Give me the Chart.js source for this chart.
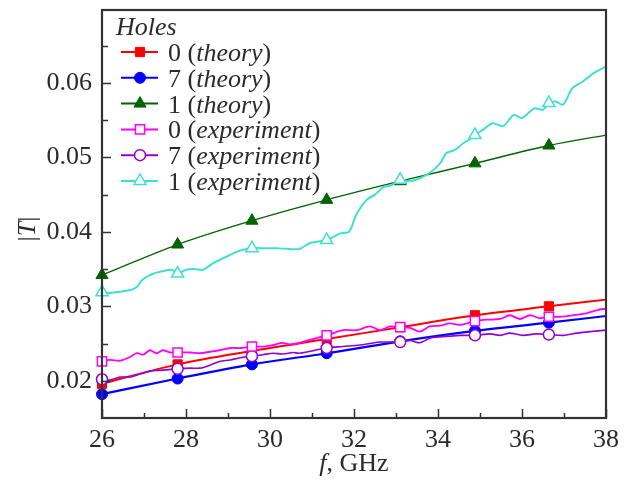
<!DOCTYPE html>
<html>
<head>
<meta charset="utf-8">
<script src="https://cdn.jsdelivr.net/npm/chart.js@4.4.0/dist/chart.umd.min.js"></script>
<style>
  html, body { margin: 0; padding: 0; background: #fff; }
  #wrap { width: 631px; height: 484px; }
</style>
</head>
<body>
<div id="wrap"><canvas id="grafico" width="631" height="484"></canvas></div>
<script>
// frequencias (GHz) das curvas teoricas
var freqTeoria = [26, 27.8, 29.57, 31.35, 33.1, 34.88, 36.64, 38];
// |T| teorico: 0, 7 e 1 furos
var teoria0 = [0.0196, 0.0222, 0.0240, 0.0256, 0.0272, 0.0288, 0.0300, 0.0309];
var teoria7 = [0.0182, 0.0203, 0.0222, 0.0237, 0.0253, 0.0267, 0.0278, 0.0287];
var teoria1 = [0.0342, 0.0383, 0.0415, 0.0443, 0.0468, 0.0492, 0.0516, 0.0530];

// frequencias onde aparecem os marcadores
var marcadores = [26, 27.8, 29.57, 31.35, 33.1, 34.88, 36.64];

// experimento, 0 furos
var freqExp0 = [26, 26.19, 26.43, 26.67, 26.83, 26.98, 27.14, 27.3, 27.45, 27.62, 27.8, 28.1, 28.33, 28.57, 28.8,
                29.05, 29.3, 29.57, 29.83, 30.07, 30.29, 30.48, 30.7, 30.95, 31.35, 31.74, 32.07, 32.38, 32.62, 32.86,
                33.1, 33.33, 33.57, 33.8, 34.05, 34.29, 34.52, 34.88, 35.17, 35.48, 35.71, 35.95, 36.19, 36.43, 36.64,
                36.9, 37.21, 37.55, 37.8, 38];
var exp0 = [0.0226, 0.0228, 0.0227, 0.0232, 0.0237, 0.0235, 0.0241, 0.0237, 0.0241, 0.0238, 0.0238, 0.0238, 0.0237, 0.0239, 0.0241,
            0.0244, 0.0244, 0.0246, 0.0246, 0.0248, 0.0251, 0.0249, 0.0251, 0.0255, 0.0261, 0.0268, 0.0268, 0.0273, 0.0268, 0.0273,
            0.0272, 0.0271, 0.0266, 0.0273, 0.0274, 0.0277, 0.0275, 0.0280, 0.0282, 0.0283, 0.0288, 0.0283, 0.0288, 0.0284, 0.0286,
            0.0286, 0.0288, 0.0291, 0.0295, 0.0297];

// experimento, 7 furos
var freqExp7 = [26, 26.19, 26.43, 26.67, 26.9, 27.14, 27.38, 27.8, 28.1, 28.33, 28.57, 28.8, 29.05, 29.29, 29.57,
                29.83, 30.07, 30.31, 30.55, 30.7, 31.35, 31.74, 32.14, 32.38, 32.62, 32.86, 33.1, 33.33, 33.57, 33.8,
                34.05, 34.29, 34.52, 34.88, 35.24, 35.48, 35.71, 36.02, 36.33, 36.64, 36.98, 37.31, 37.62, 38];
var exp7 = [0.0202, 0.0201, 0.0205, 0.0205, 0.0209, 0.0213, 0.0214, 0.0216, 0.0217, 0.0217, 0.0221, 0.0226, 0.0228, 0.0231, 0.0233,
            0.0235, 0.0237, 0.0236, 0.0238, 0.0237, 0.0244, 0.0246, 0.0248, 0.0250, 0.0252, 0.0252, 0.0252, 0.0254, 0.0251, 0.0257,
            0.0259, 0.0260, 0.0261, 0.0261, 0.0263, 0.0261, 0.0264, 0.0261, 0.0263, 0.0262, 0.0261, 0.0264, 0.0266, 0.0268];

// experimento, 1 furo
var freqExp1 = [26, 26.18, 26.67, 26.83, 26.95, 27.14, 27.43, 27.67, 27.8, 28.0, 28.2, 28.4, 28.65, 28.9, 29.05,
                29.24, 29.57, 29.9, 30.17, 30.45, 30.7, 30.95, 31.35, 31.67, 31.88, 32.07, 32.3, 32.5, 32.7, 32.9,
                33.1, 33.33, 33.57, 33.8, 34.05, 34.2, 34.4, 34.6, 34.75, 34.88, 35.07, 35.3, 35.55, 35.8, 36.0,
                36.3, 36.5, 36.64, 36.8, 36.98, 37.2, 37.45, 37.7, 38];
var exp1 = [0.0319, 0.0318, 0.0322, 0.0326, 0.0335, 0.0342, 0.0347, 0.0349, 0.0344, 0.0349, 0.0350, 0.0349, 0.0358, 0.0365, 0.0369,
            0.0374, 0.0378, 0.0378, 0.0378, 0.0377, 0.0377, 0.0385, 0.0389, 0.0398, 0.0400, 0.0425, 0.0443, 0.0450, 0.0460, 0.0463,
            0.0470, 0.0468, 0.0472, 0.0479, 0.0492, 0.0506, 0.0510, 0.0519, 0.0524, 0.0530, 0.0537, 0.0546, 0.0542, 0.0557, 0.0553,
            0.0566, 0.0564, 0.0573, 0.0575, 0.0571, 0.0593, 0.0602, 0.0613, 0.0622];

// ticks dos eixos
var xMaiores = [26, 28, 30, 32, 34, 36, 38];
var xMenores = [27, 29, 31, 33, 35, 37];
var yMaiores = [0.02, 0.03, 0.04, 0.05, 0.06];
var yMenores = [0.025, 0.035, 0.045, 0.055, 0.065];

// legenda
var tituloLegenda = 'Holes';
var legendaNumero = ['0', '7', '1', '0', '7', '1'];
var legendaTipo = ['theory', 'theory', 'theory', 'experiment', 'experiment', 'experiment'];

var fonte = '"Liberation Serif", "DejaVu Serif", serif';
var corTexto = '#2b2b2b';

function pontos(fs, ts) {
    return fs.map(function (f, i) { return { x: f, y: ts[i] }; });
}
function raioMarcador(r) {
    return function (ctx) {
        return (ctx.raw && marcadores.indexOf(ctx.raw.x) >= 0) ? r : 0;
    };
}
function serie(dados, cor, estilo, raio, aberto, largura, ordem, teorico) {
    return {
        data: dados,
        borderColor: cor,
        backgroundColor: aberto ? '#ffffff' : cor,
        pointBorderColor: cor,
        pointBackgroundColor: aberto ? '#ffffff' : cor,
        pointStyle: estilo,
        pointRadius: raioMarcador(raio),
        pointHoverRadius: raioMarcador(raio),
        pointBorderWidth: aberto ? 1.5 : 1,
        borderWidth: largura,
        cubicInterpolationMode: teorico ? 'monotone' : 'default',
        tension: teorico ? 0 : 0.3,
        fill: false,
        clip: false,
        order: ordem
    };
}

var series = [
    serie(pontos(freqTeoria, teoria0), '#ff0000', 'rect', 6.5, false, 2, 1, true),
    serie(pontos(freqTeoria, teoria7), '#0000ff', 'circle', 5.5, false, 2.2, 1, true),
    serie(pontos(freqTeoria, teoria1), '#006400', 'triangle', 7, false, 1.3, 1, true),
    serie(pontos(freqExp0, exp0), '#ff00ff', 'rect', 6.5, true, 1.8, 0, false),
    serie(pontos(freqExp7, exp7), '#9400d3', 'circle', 5.5, true, 1.6, 0, false),
    serie(pontos(freqExp1, exp1), '#40e0d0', 'triangle', 7, true, 2, 0, false)
];

function desenhaMarcador(ctx, ds, x, y) {
    var r = ds.pointStyle === 'rect' ? 6.5 : (ds.pointStyle === 'circle' ? 5.5 : 7);
    ctx.save();
    ctx.fillStyle = ds.pointBackgroundColor;
    ctx.strokeStyle = ds.pointBorderColor;
    ctx.lineWidth = ds.pointBorderWidth;
    ctx.beginPath();
    if (ds.pointStyle === 'rect') {
        var s = r * Math.SQRT1_2;
        ctx.rect(x - s, y - s, 2 * s, 2 * s);
    } else if (ds.pointStyle === 'circle') {
        ctx.arc(x, y, r, 0, Math.PI * 2);
    } else {
        ctx.moveTo(x, y - r);
        ctx.lineTo(x - r * 0.866, y + r * 0.5);
        ctx.lineTo(x + r * 0.866, y + r * 0.5);
        ctx.closePath();
    }
    ctx.fill();
    ctx.stroke();
    ctx.restore();
}

// escreve partes com fontes diferentes (normal / italico)
function textoMisto(ctx, partes, x, y) {
    partes.forEach(function (p) {
        ctx.font = (p[1] ? 'italic ' : '') + '26px ' + fonte;
        ctx.fillText(p[0], x, y);
        x += ctx.measureText(p[0]).width;
    });
    return x;
}
function larguraMista(ctx, partes) {
    var w = 0;
    partes.forEach(function (p) {
        ctx.font = (p[1] ? 'italic ' : '') + '26px ' + fonte;
        w += ctx.measureText(p[0]).width;
    });
    return w;
}

var moldura = {
    id: 'moldura',
    afterDraw: function (chart) {
        var ctx = chart.ctx;
        var a = chart.chartArea;
        var sx = chart.scales.x, sy = chart.scales.y;
        ctx.save();
        ctx.strokeStyle = '#333333';
        ctx.lineWidth = 1.5;
        // ticks para dentro
        xMaiores.concat(xMenores).forEach(function (v) {
            var px = Math.round(sx.getPixelForValue(v)) + 0.5;
            var len = xMaiores.indexOf(v) >= 0 ? 9 : 5;
            ctx.beginPath(); ctx.moveTo(px, a.bottom); ctx.lineTo(px, a.bottom - len); ctx.stroke();
        });
        yMaiores.concat(yMenores).forEach(function (v) {
            var py = Math.round(sy.getPixelForValue(v)) + 0.5;
            var len = yMaiores.indexOf(v) >= 0 ? 9 : 6;
            ctx.beginPath(); ctx.moveTo(a.left, py); ctx.lineTo(a.left + len, py); ctx.stroke();
        });
        ctx.lineWidth = 2.2;
        ctx.strokeRect(a.left, a.top, a.right - a.left, a.bottom - a.top);

        // legenda
        ctx.fillStyle = corTexto;
        ctx.textBaseline = 'alphabetic';
        ctx.textAlign = 'left';
        ctx.font = 'italic 26px ' + fonte;
        ctx.fillText(tituloLegenda, a.left + 14, a.top + 25);
        legendaNumero.forEach(function (n, i) {
            var ds = chart.data.datasets[i];
            var cy = a.top + 42 + i * 25.8;
            ctx.strokeStyle = ds.borderColor;
            ctx.lineWidth = 2;
            ctx.beginPath(); ctx.moveTo(a.left + 19, cy); ctx.lineTo(a.left + 56, cy); ctx.stroke();
            desenhaMarcador(ctx, ds, a.left + 38, cy);
            ctx.fillStyle = corTexto;
            textoMisto(ctx, [[n + ' (', false], [legendaTipo[i], true], [')', false]], a.left + 66, cy + 9);
        });

        // titulos dos eixos
        var partesX = [['f', true], [', GHz', false]];
        var wx = larguraMista(ctx, partesX);
        textoMisto(ctx, partesX, (a.left + a.right) / 2 - wx / 2, 471);

        var partesY = [['|', false], ['T', true], ['|', false]];
        var wy = larguraMista(ctx, partesY);
        ctx.save();
        ctx.translate(35, 229);
        ctx.rotate(-Math.PI / 2);
        textoMisto(ctx, partesY, -wy / 2, 0);
        ctx.restore();
        ctx.restore();
    }
};

var config = {
    type: 'line',
    data: { datasets: series },
    options: {
        responsive: false,
        animation: false,
        layout: { padding: { top: 10, right: 25, left: 0, bottom: 0 } },
        plugins: {
            legend: { display: false },
            tooltip: { enabled: false }
        },
        scales: {
            x: {
                type: 'linear',
                min: 26,
                max: 38,
                grid: { display: false, drawTicks: false },
                border: { display: false },
                afterBuildTicks: function (s) { s.ticks = xMaiores.map(function (v) { return { value: v }; }); },
                afterFit: function (s) { s.height = 66; s.paddingLeft = 0; s.paddingRight = 0; },
                ticks: {
                    padding: 7,
                    color: corTexto,
                    font: { family: fonte, size: 26 },
                    maxRotation: 0,
                    callback: function (v) { return String(v); }
                }
            },
            y: {
                type: 'linear',
                min: 0.015,
                max: 0.0698,
                grid: { display: false, drawTicks: false },
                border: { display: false },
                afterBuildTicks: function (s) { s.ticks = yMaiores.map(function (v) { return { value: v }; }); },
                afterFit: function (s) { s.width = 102; s.paddingTop = 0; s.paddingBottom = 0; },
                ticks: {
                    padding: 10,
                    color: corTexto,
                    font: { family: fonte, size: 26 },
                    callback: function (v) { return Number(v).toFixed(2); }
                }
            }
        }
    },
    plugins: [moldura]
};

var grafico = new Chart(document.getElementById('grafico'), config);
</script>
</body>
</html>
